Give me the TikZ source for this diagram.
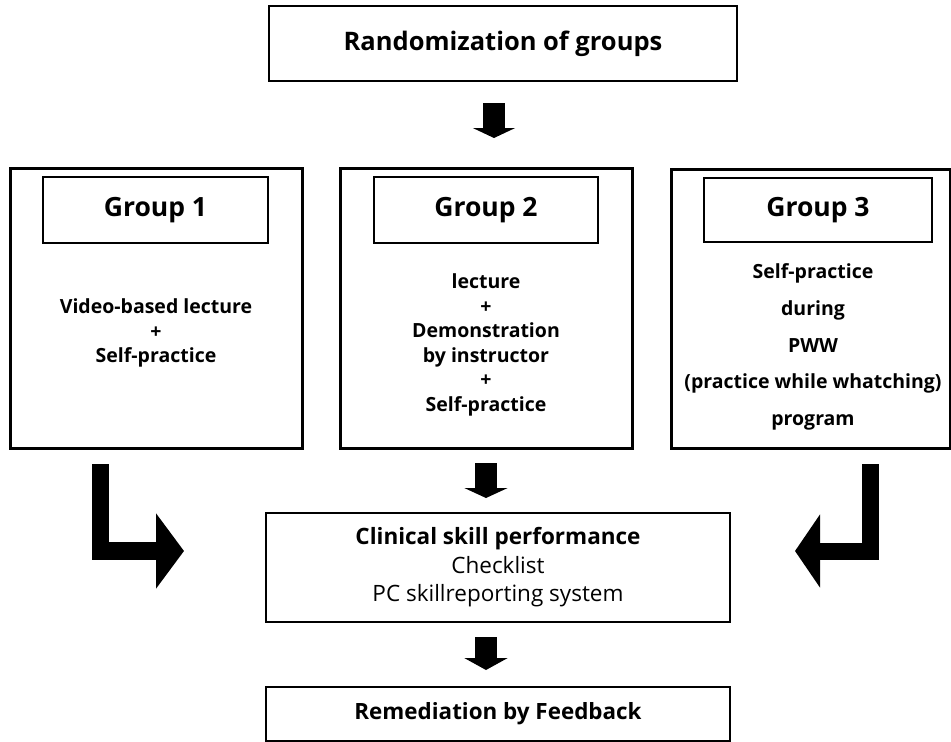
\documentclass[tikz,border=0pt]{standalone}
\usepackage{fontspec}
\setmainfont{Open Sans}
\usetikzlibrary{arrows.meta}
\begin{document}
\begin{tikzpicture}[x=1pt,y=-1pt,
  box/.style={draw, line width=2.6pt, rectangle, inner sep=0pt, outer sep=0pt, align=center},
  titlebox/.style={draw, line width=2.4pt, rectangle, inner sep=0pt, outer sep=0pt, font=\fontsize{26.5}{30}\selectfont\bfseries},
  bodytext/.style={align=center, inner sep=0pt, font=\fontsize{19.5}{24.6}\selectfont\bfseries},
  blockarrow/.style={draw=black, line cap=butt, line join=miter}
]
\useasboundingbox (0,0) rectangle (951,742);
% top box
\node[box, minimum width=468pt, minimum height=75pt, font=\fontsize{25.5}{30}\selectfont\bfseries] (rand) at (503,43.5) {Randomization of groups};
% group boxes
\node[box, line width=3pt, minimum width=292pt, minimum height=280pt] (g1) at (156,308) {};
\node[titlebox, minimum width=225pt, minimum height=66pt] (g1h) at (155.5,210) {Group 1};
\node[bodytext] (g1b) at (156,333) {Video-based lecture\\+\\Self-practice};

\node[box, line width=3pt, minimum width=292pt, minimum height=280pt] (g2) at (486,308) {};
\node[titlebox, minimum width=224pt, minimum height=66pt] (g2h) at (486,210) {Group 2};
\node[bodytext] (g2b) at (486,345) {lecture\\+\\Demonstration\\by instructor\\+\\Self-practice};

\node[box, line width=3pt, minimum width=279pt, minimum height=279pt] (g3) at (810.5,308.5) {};
\node[titlebox, minimum width=228pt, minimum height=64pt] (g3h) at (818,210) {Group 3};
\node[bodytext, font=\fontsize{19.5}{36.8}\selectfont\bfseries] (g3b) at (813,347) {Self-practice\\during\\PWW\\(practice while whatching)\\program};

% clinical box
\node[box, minimum width=464pt, minimum height=109pt, font=\fontsize{22.5}{28.5}\selectfont] (clin) at (498,567.5) {\textbf{Clinical skill performance}\\Checklist\\PC skillreporting system};
% remediation
\node[box, minimum width=464pt, minimum height=54pt, font=\fontsize{22.4}{26}\selectfont\bfseries] (rem) at (498,714) {Remediation by Feedback};

% arrow coordinates
\coordinate (a1s) at (494,103);
\coordinate (a1e) at (494,138);
\coordinate (a2s) at (486,463);
\coordinate (a2e) at (486,498);
\coordinate (a3s) at (486,637);
\coordinate (a3e) at (486,670);
\coordinate (lbs) at (100.5,464);
\coordinate (lbe) at (184,551);
\coordinate (rbs) at (870.5,464);
\coordinate (rbe) at (795,551);

\draw[blockarrow, line width=22pt, -{Triangle[width=42pt,length=10pt]}] (a1s) -- (a1e);
\draw[blockarrow, line width=22pt, -{Triangle[width=43pt,length=10pt]}] (a2s) -- (a2e);
\draw[blockarrow, line width=22pt, -{Triangle[width=43pt,length=12pt]}] (a3s) -- (a3e);
\draw[blockarrow, line width=17.5pt, -{Triangle[width=74pt,length=28pt]}] (lbs) |- (lbe);
\draw[blockarrow, line width=17pt, -{Triangle[width=72pt,length=25pt]}] (rbs) |- (rbe);
\end{tikzpicture}
\end{document}
